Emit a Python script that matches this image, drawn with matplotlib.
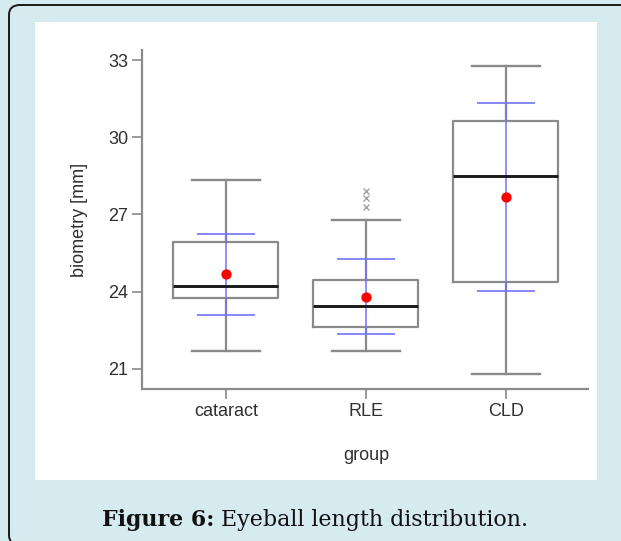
import matplotlib
matplotlib.use("Agg")
import matplotlib.pyplot as plt
from matplotlib.patches import FancyBboxPatch, Rectangle

# eyeball length (biometry) per group
groups = ["cataract", "RLE", "CLD"]
whisker_low = [21.71, 21.69, 20.79]
q1 = [23.77, 22.62, 24.39]
median = [24.23, 23.45, 28.50]
q3 = [25.92, 24.46, 30.63]
whisker_high = [28.33, 26.79, 32.77]
mean = [24.68, 23.81, 27.67]
sd = [1.57, 1.47, 3.65]
outliers = [[], [27.30, 27.63, 27.92], []]
yticks = [21, 24, 27, 30, 33]

W, H = 621, 541
fig = plt.figure(figsize=(W / 100, H / 100), dpi=100)
fig.patch.set_facecolor("#d6ebf0")

# rounded frame, only top/left edges fall inside the canvas
frame = FancyBboxPatch((9 / W, 1 - 545 / H), 640 / W, 540 / H,
                       boxstyle="round,pad=0,rounding_size=0.018",
                       transform=fig.transFigure, facecolor="none",
                       edgecolor="#1a1a1a", linewidth=1.4, clip_on=False, zorder=-2)
fig.patches.append(frame)
# white panel behind the chart
fig.patches.append(Rectangle((35 / W, 1 - 480 / H), 562 / W, 458 / H,
                             transform=fig.transFigure, facecolor="white",
                             edgecolor="none", zorder=-1))

ax = fig.add_axes([142 / W, 1 - 389 / H, 446 / W, 339 / H])
ax.set_facecolor("none")

grey = "#8a8a8a"
txt = "#303030"
pos = [1, 2, 3]

stats = []
for i in range(len(groups)):
    stats.append(dict(label=groups[i], whislo=whisker_low[i], q1=q1[i], med=median[i],
                      q3=q3[i], whishi=whisker_high[i], fliers=outliers[i], mean=mean[i]))

ax.bxp(stats, positions=pos, widths=0.75, showmeans=False, capwidths=0.49,
       boxprops=dict(color=grey, linewidth=1.6),
       whiskerprops=dict(color=grey, linewidth=1.6),
       capprops=dict(color=grey, linewidth=1.7),
       medianprops=dict(color="#1a1a1a", linewidth=2.1, zorder=4),
       flierprops=dict(marker="x", markersize=4, markeredgecolor="#999999",
                       markeredgewidth=0.9, linestyle="none"))

# mean +/- sd in blue, mean as red dot
ax.errorbar(pos, mean, yerr=sd, fmt="none", ecolor="#7272ff", elinewidth=1.3,
            capsize=21, capthick=1.4, alpha=0.85, zorder=3)
ax.scatter(pos, mean, s=55, color="#ff0000", zorder=5, linewidths=0)

ax.set_xlim(0.4, 3.586)
ax.set_ylim(20.22, 33.39)
ax.set_yticks(yticks)
ax.set_xticks(pos)
ax.set_xticklabels(groups)

font = "Liberation Sans"
for s in ["top", "right"]:
    ax.spines[s].set_visible(False)
for s in ["left", "bottom"]:
    ax.spines[s].set_color(grey)
    ax.spines[s].set_linewidth(1.6)
ax.tick_params(axis="both", colors=grey, length=7, width=1.2, labelsize=13,
               labelcolor=txt, pad=3)
for lab in ax.get_xticklabels() + ax.get_yticklabels():
    lab.set_fontfamily(font)

fig.text(80 / W, 1 - 220 / H, "biometry [mm]", rotation=90, ha="center", va="center",
         fontsize=13, color=txt, family=font)
fig.text(366 / W, 1 - 456 / H, "group", ha="center", va="center",
         fontsize=13, color=txt, family=font)

# caption: bold lead then regular text
cap_y = 1 - 520 / H
serif = "DejaVu Serif"
t1 = fig.text(0, cap_y, "Figure 6:", fontsize=15.9, fontweight="bold", family=serif,
              color="#111111", va="center")
t2 = fig.text(0, cap_y, " Eyeball length distribution.", fontsize=15.9, family=serif,
              color="#111111", va="center")
fig.canvas.draw()
r = fig.canvas.get_renderer()
w1 = t1.get_window_extent(r).width
w2 = t2.get_window_extent(r).width
x0 = 315 - (w1 + w2) / 2
t1.set_x(x0 / W)
t2.set_x((x0 + w1) / W)

fig.savefig("out.png", dpi=100, facecolor=fig.get_facecolor())
